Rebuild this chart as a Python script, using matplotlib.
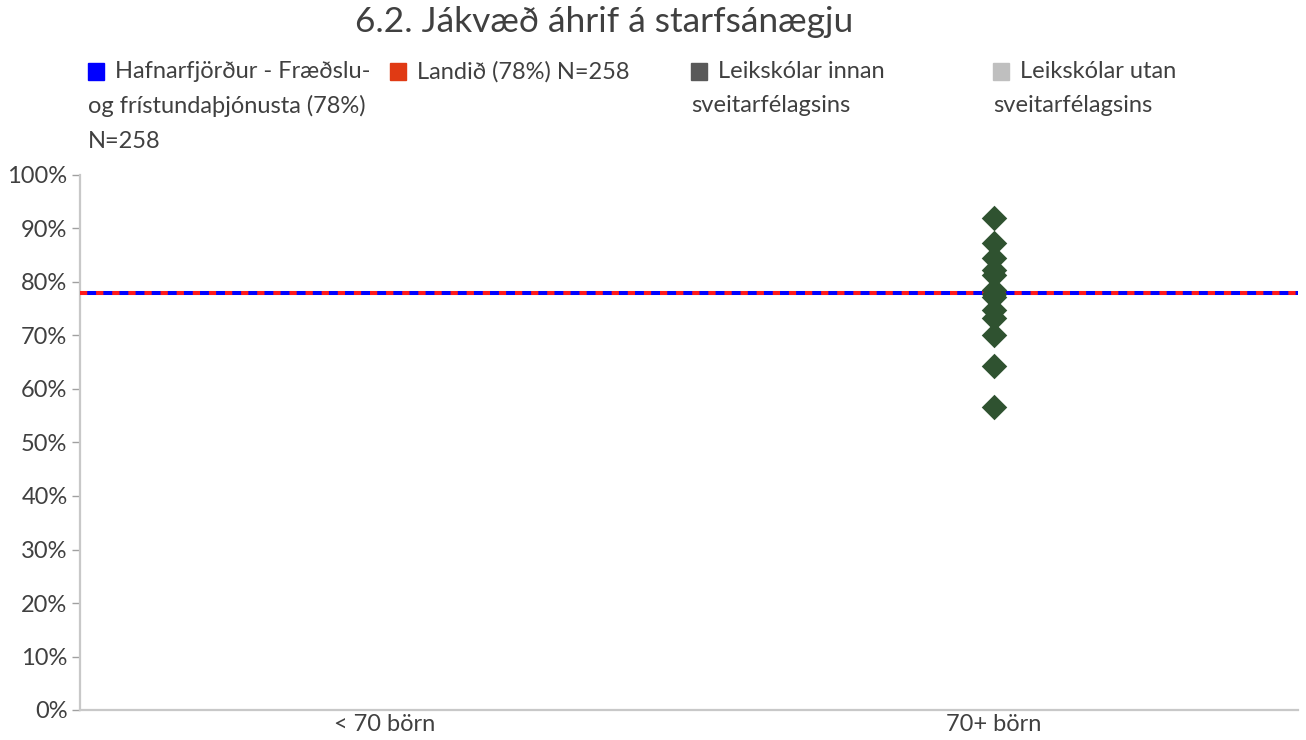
import matplotlib.pyplot as plt
from matplotlib.patches import Rectangle

plt.rcParams['font.family'] = ['Lato', 'DejaVu Sans']

title = '6.2. Jákvæð áhrif á starfsánægju'
categories = ['< 70 börn', '70+ börn']

# reference lines (%)
hafnarfjordur_value = 78
landid_value = 78

# Leikskólar innan sveitarfélagsins, all in the 70+ group (%)
innan_category = '70+ börn'
innan_values = [92.0, 87.3, 84.5, 82.2, 81.3, 78.5, 77.8, 77.2, 74.8, 73.3, 70.1, 64.3, 56.6]

legend_labels = [
    ['Hafnarfjörður - Fræðslu-', 'og frístundaþjónusta (78%)', 'N=258'],
    ['Landið (78%) N=258'],
    ['Leikskólar innan', 'sveitarfélagsins'],
    ['Leikskólar utan', 'sveitarfélagsins'],
]
legend_colors = ['#0000FF', '#E03A14', '#595959', '#BFBFBF']

text_color = '#404040'
W, H = 1306, 740

fig = plt.figure(figsize=(W / 100, H / 100), dpi=100)
ax = fig.add_axes([80 / W, 1 - 710 / H, 1218 / W, 535 / H])

ax.axhline(hafnarfjordur_value, color='#0000FF', lw=2.9, zorder=2)
ax.axhline(landid_value, color='#FF1A1A', lw=2.9, dashes=(1.8, 2.2), zorder=3)

x_pos = [categories.index(innan_category)] * len(innan_values)
ax.scatter(x_pos, innan_values, marker='D', s=13 ** 2, color='#2F5230',
           linewidths=0, zorder=4, clip_on=False)

ax.set_xlim(-0.5, len(categories) - 0.5)
ax.set_ylim(0, 100)
ax.set_xticks(range(len(categories)))
ax.set_xticklabels(categories)
ax.set_yticks(range(0, 101, 10))
ax.set_yticklabels([f'{v}%' for v in range(0, 101, 10)])
ax.tick_params(axis='y', length=6, width=1, color='#A0A0A0', labelsize=17,
               labelcolor=text_color, pad=3)
ax.tick_params(axis='x', length=0, labelsize=17, labelcolor=text_color, pad=3)
for s in ['top', 'right']:
    ax.spines[s].set_visible(False)
for s in ['left', 'bottom']:
    ax.spines[s].set_color('#C8C8C8')
    ax.spines[s].set_linewidth(1.6)

fig.text(604 / W, 1 - 22 / H, title, ha='center', va='center', fontsize=25.5,
         color=text_color)

# legend drawn by hand so wrapped lines start under the square
sq_x = [88, 390, 691, 993]
line_y = [72, 106, 141]
for i, (lines, col) in enumerate(zip(legend_labels, legend_colors)):
    x0 = sq_x[i]
    fig.patches.append(Rectangle((x0 / W, 1 - 80 / H), 16 / W, 17 / H,
                                 transform=fig.transFigure, color=col))
    for j, txt in enumerate(lines):
        tx = x0 + 27 if j == 0 else x0
        fig.text(tx / W, 1 - line_y[j] / H, txt, ha='left', va='center',
                 fontsize=17, color=text_color)

fig.savefig('out.png', dpi=100)
